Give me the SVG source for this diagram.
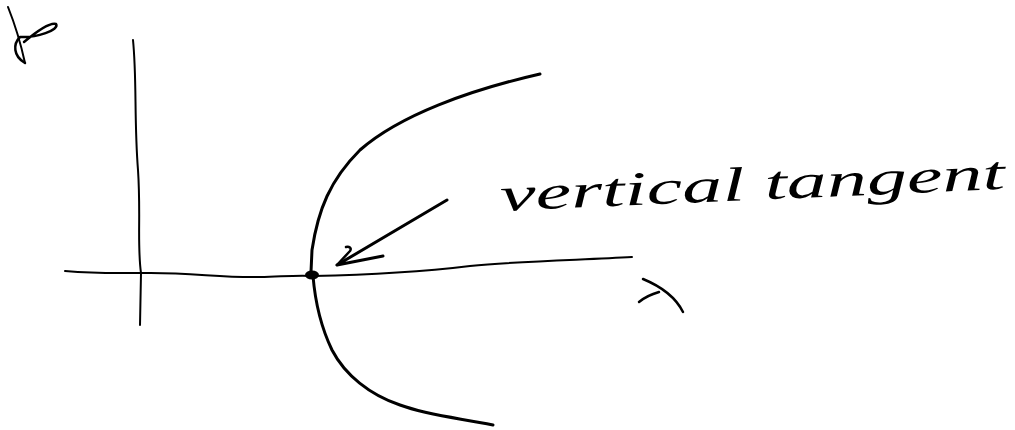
<svg xmlns="http://www.w3.org/2000/svg" width="1015" height="430" viewBox="0 0 1015 430">
  <style>
    .ink { fill: none; stroke: #000; stroke-linecap: round; stroke-linejoin: round; }
    .axis { stroke-width: 2; }
    .curve { stroke-width: 3; }
    .label { font-family: "Liberation Serif", "DejaVu Serif", serif; font-style: italic; fill: #000; }
  </style>
  <rect width="1015" height="430" fill="#fff"/>
  <g id="axes">
    <path class="ink axis" d="M 133 40 C 137 80, 134 120, 138 170 C 141 215, 137 245, 141 273 L 140 325"/>
    <path class="ink axis" d="M 65 271 C 100 274, 120 273, 142 273 C 190 272, 220 278, 260 277 C 290 276, 300 275, 313 276 C 360 275, 420 272, 470 266 C 520 261, 580 260, 632 257"/>
  </g>
  <g id="rho-label">
    <path class="ink" stroke-width="2" d="M 8 7 C 14 22, 20 40, 25 63"/>
    <path class="ink" stroke-width="2.5" d="M 24 42 C 36 32, 50 22, 56 24 C 60 30, 36 38, 20 37 C 13 44, 13 56, 25 63"/>
  </g>
  <g id="lambda-label">
    <path class="ink" stroke-width="2.5" d="M 643 279 C 660 286, 675 296, 683 312"/>
    <path class="ink" stroke-width="2.5" d="M 639 302 C 645 297, 652 294, 659 292"/>
  </g>
  <g id="curve">
    <path class="ink curve" d="M 540 74 C 470 90, 400 115, 360 150 C 330 180, 318 210, 312 250 L 311 272"/>
    <path class="ink curve" d="M 313 276 C 315 300, 320 325, 332 350 C 345 375, 370 395, 400 405 C 430 416, 460 418, 493 425"/>
    <ellipse cx="312" cy="275" rx="7" ry="4.5" fill="#000"/>
  </g>
  <g id="connectors">
    <path class="ink curve" d="M 447 200 L 337 265 L 383 256"/>
    <path class="ink" stroke-width="2.5" d="M 337 265 L 350 251 C 352 248, 349 246, 346 247"/>
  </g>
  <g id="annotation">
    <text class="label" x="500" y="200" font-size="48" textLength="505" lengthAdjust="spacingAndGlyphs" transform="rotate(-2.5 750 190)">vertical tangent</text>
  </g>
</svg>
